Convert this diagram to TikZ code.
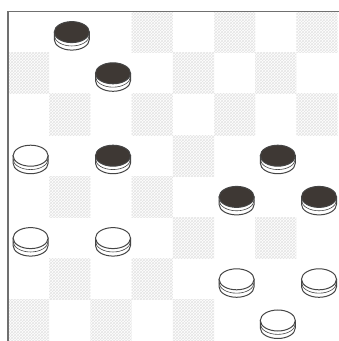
\documentclass[tikz,border=0pt]{standalone}
\usetikzlibrary{patterns}
\definecolor{piecedark}{HTML}{3E3834}
\definecolor{pieceline}{HTML}{454545}
\definecolor{boardline}{HTML}{707070}
\tikzset{
  darksq/.style={pattern=crosshatch, pattern color=gray!20},
  rim/.style={draw=pieceline, fill=white, line width=1pt},
  blackman/.style={draw=pieceline, fill=piecedark, line width=1pt},
  whiteman/.style={draw=pieceline, fill=white, line width=1pt},
  checker/.pic={
    \path[rim] (-\prx,0) -- (-\prx,-\ph)
      arc[start angle=180, end angle=360, x radius=\prx pt, y radius=\pry pt] -- (\prx,0) -- cycle;
    \draw[pieceline, line width=0.6pt] (-\prx,-0.45*\ph)
      arc[start angle=180, end angle=360, x radius=\prx pt, y radius=\pry pt];
    \path[pic actions] (0,0) ellipse[x radius=\prx pt, y radius=\pry pt];
  }
}

\begin{document}
\begin{tikzpicture}[x=1pt, y=1pt]
\def\sq{41.2}
\def\bx{8}
\def\by{329.5}
\def\prx{17.5}
\def\pry{10.5}
\def\ph{7.5}
\useasboundingbox (0,0) rectangle (339,341);
\fill[white] (0,0) rectangle (339,341);

% empty dark squares
\foreach \c/\r in {3/0, 5/0, 7/0, 0/1, 4/1, 6/1, 1/2, 3/2, 5/2, 7/2, 4/3,
  1/4, 3/4, 4/5, 6/5, 1/6, 3/6, 0/7, 2/7, 4/7}
  \path[darksq] (\bx+\c*\sq, \by-\r*\sq) rectangle ++(\sq,-\sq);

\draw[boardline, line width=1.8pt] (\bx, -5) -- (\bx,\by) -- (345,\by);

% black men
\foreach \c/\r in {1/0, 2/1, 2/3, 6/3, 5/4, 7/4}
  \pic[blackman] at (\bx+2+\c*\sq+0.5*\sq, \by-\r*\sq-0.5*\sq) {checker};

% white men
\foreach \c/\r in {0/3, 0/5, 2/5, 5/6, 7/6, 6/7}
  \pic[whiteman] at (\bx+2+\c*\sq+0.5*\sq, \by-\r*\sq-0.5*\sq) {checker};
\end{tikzpicture}
\end{document}
